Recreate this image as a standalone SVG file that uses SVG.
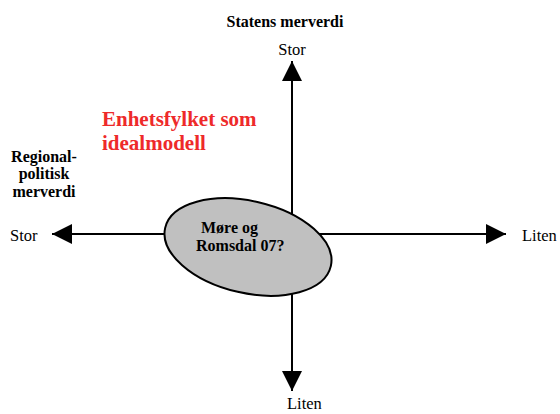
<svg xmlns="http://www.w3.org/2000/svg" width="560" height="414" viewBox="0 0 560 414">
<style>
text{font-family:"Liberation Serif","Times New Roman","DejaVu Serif",serif;fill:#000;font-size:16.5px}
.b{font-weight:bold;font-size:16px}
.ax{stroke:#000;stroke-width:2;fill:none}
.red{fill:#ee2a2a;font-weight:bold;font-size:21px}
</style>
<defs>
<marker id="ah" viewBox="0 0 20 20" refX="20" refY="10" markerWidth="20" markerHeight="20" markerUnits="userSpaceOnUse" orient="auto">
<path d="M0,0 L20,10 L0,20 Z" fill="#000"/>
</marker>
</defs>
<rect width="560" height="414" fill="#fff"/>
<g id="connectors">
<line class="ax" x1="292" y1="220" x2="292" y2="61" marker-end="url(#ah)"/>
<line class="ax" x1="292" y1="280" x2="292" y2="391" marker-end="url(#ah)"/>
<line class="ax" x1="200" y1="234" x2="52" y2="234" marker-end="url(#ah)"/>
<line class="ax" x1="300" y1="234" x2="506" y2="234" marker-end="url(#ah)"/>
</g>
<g id="node-center">
<ellipse cx="248" cy="247" rx="85" ry="46" transform="rotate(13 248 247)" fill="#c0c0c0" stroke="#000" stroke-width="2"/>
<text class="b" x="201" y="233">Møre og</text>
<text class="b" x="196" y="251">Romsdal 07?</text>
</g>
<g id="labels">
<text class="b" x="285" y="27" text-anchor="middle">Statens merverdi</text>
<text x="292" y="55" text-anchor="middle">Stor</text>
<text class="red" x="102" y="126">Enhetsfylket som</text>
<text class="red" x="102" y="150">idealmodell</text>
<text class="b" x="44" y="162" text-anchor="middle">Regional-</text>
<text class="b" x="44" y="179" text-anchor="middle">politisk</text>
<text class="b" x="44" y="197" text-anchor="middle">merverdi</text>
<text x="10" y="241">Stor</text>
<text x="522" y="241">Liten</text>
<text x="287" y="409">Liten</text>
</g>
</svg>
